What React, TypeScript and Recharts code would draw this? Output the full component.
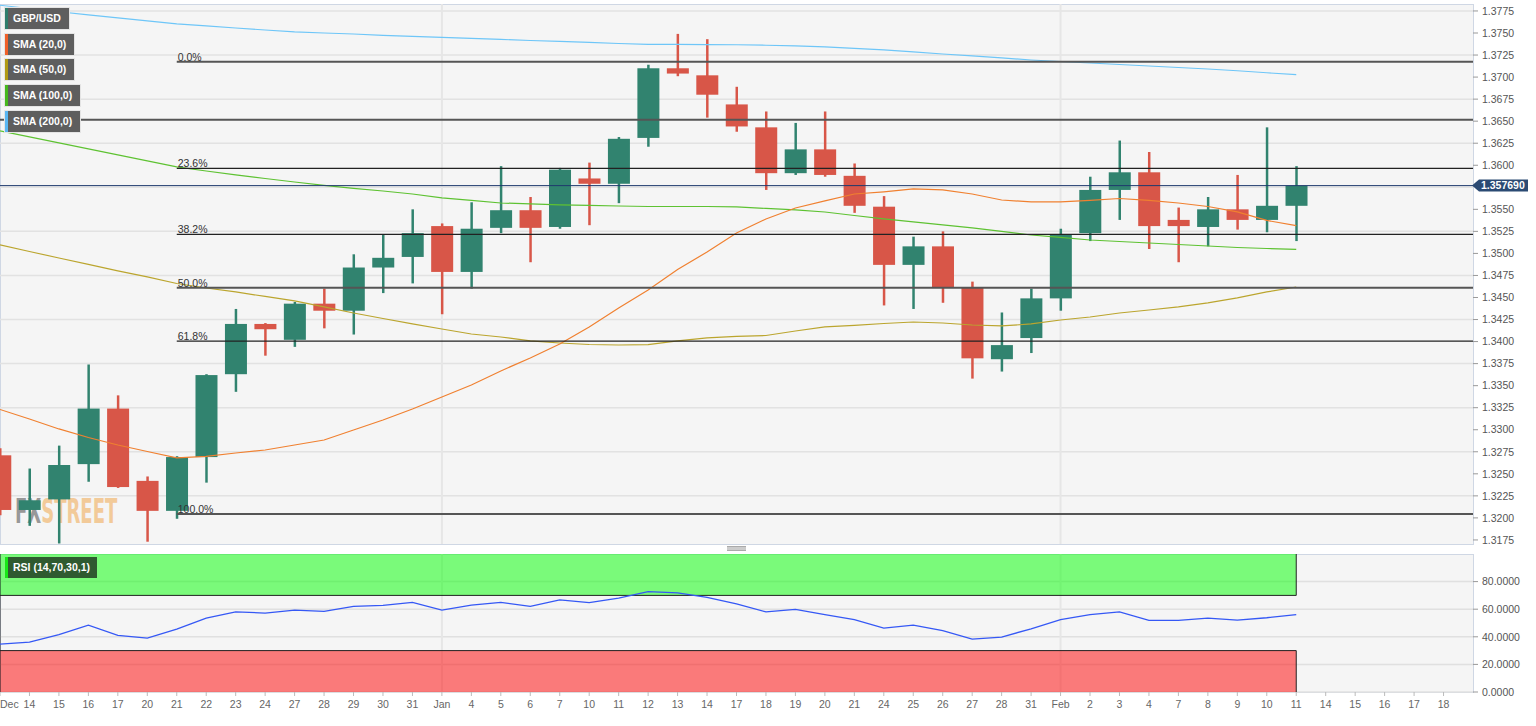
import React from 'react';
import {
    ComposedChart,
    Bar,
    Line,
    XAxis,
    YAxis,
    CartesianGrid,
    ReferenceLine,
    ReferenceArea,
} from 'recharts';

// the picture is laid out from the page's top-left corner
if (typeof document !== 'undefined') document.body.style.margin = '0';

// trading days shown on the time axis (month name on the first day of the month)
const dates = [
    'Dec', '14', '15', '16', '17', '20', '21', '22', '23', '24', '27', '28', '29', '30', '31',
    'Jan', '4', '5', '6', '7', '10', '11', '12', '13', '14', '17', '18', '19', '20', '21', '24', '25', '26', '27', '28', '31',
    'Feb', '2', '3', '4', '7', '8', '9', '10', '11', '14', '15', '16', '17', '18',
];

const opens = [
    1.3271, 1.3209, 1.3221, 1.3261, 1.3324, 1.3242, 1.3208, 1.3269, 1.3363, 1.342,
    1.3402, 1.3443, 1.3435, 1.3484, 1.3496, 1.3531, 1.3479, 1.3529, 1.3549, 1.353,
    1.3585, 1.3579, 1.3631, 1.371, 1.3702, 1.3669, 1.3643, 1.3591, 1.3618, 1.3588,
    1.3553, 1.3487, 1.3508, 1.3461, 1.338, 1.3404, 1.3449, 1.3523, 1.3572, 1.3592,
    1.3538, 1.353, 1.355, 1.3538, 1.3554,
];
const highs = [
    1.3279, 1.3256, 1.3282, 1.3374, 1.3339, 1.3247, 1.327, 1.3363, 1.3437, 1.3421,
    1.3445, 1.346, 1.3499, 1.3521, 1.355, 1.3534, 1.3558, 1.3599, 1.3564, 1.3597,
    1.3603, 1.3632, 1.3714, 1.3749, 1.3743, 1.3689, 1.3661, 1.3648, 1.3661, 1.3602,
    1.3565, 1.3519, 1.3525, 1.3468, 1.3433, 1.346, 1.3528, 1.3587, 1.3628, 1.3615,
    1.3552, 1.3564, 1.3589, 1.3643, 1.3599,
];
const lows = [
    1.3203, 1.3191, 1.3171, 1.3241, 1.3234, 1.3173, 1.3199, 1.324, 1.3343, 1.3384,
    1.3394, 1.3415, 1.3408, 1.3455, 1.3466, 1.3431, 1.346, 1.3523, 1.349, 1.3528,
    1.3532, 1.3557, 1.3621, 1.3701, 1.3654, 1.3638, 1.3572, 1.3589, 1.3587, 1.3546,
    1.3441, 1.3437, 1.3444, 1.3358, 1.3366, 1.3387, 1.3435, 1.3514, 1.3538, 1.3505,
    1.349, 1.3508, 1.3527, 1.3524, 1.3514,
];
const closes = [
    1.3209, 1.322, 1.326, 1.3324, 1.3235, 1.3208, 1.3269, 1.3362, 1.342, 1.3414,
    1.3443, 1.3435, 1.3484, 1.3495, 1.3523, 1.3479, 1.3528, 1.3549, 1.3529, 1.3595,
    1.3579, 1.363, 1.371, 1.3704, 1.368, 1.3644, 1.3591, 1.3618, 1.3589, 1.3554,
    1.3487, 1.3508, 1.3461, 1.3381, 1.3396, 1.3449, 1.3521, 1.3572, 1.3592, 1.3531,
    1.3531, 1.355, 1.3538, 1.3554, 1.35769,
];

const sma20 = [
    1.3323, 1.33122, 1.33009, 1.32912, 1.32827, 1.32753, 1.3268, 1.32697, 1.32736, 1.3277,
    1.32827, 1.32884, 1.32997, 1.33111, 1.33235, 1.33372, 1.33508, 1.33667, 1.33814, 1.33973,
    1.34166, 1.34381, 1.34585, 1.34818, 1.35016, 1.35232, 1.35391, 1.35515, 1.35595, 1.35674,
    1.35699, 1.35731, 1.3572, 1.35674, 1.35606, 1.35584, 1.35584, 1.35601, 1.35623, 1.35601,
    1.35572, 1.35532, 1.35472, 1.35374, 1.35315,
];
const sma50 = [
    1.35096, 1.35022, 1.34948, 1.34875, 1.34801, 1.34733, 1.34659, 1.34608, 1.34563, 1.34512,
    1.34461, 1.34393, 1.34324, 1.34262, 1.342, 1.34143, 1.34086, 1.34052, 1.34007, 1.33984,
    1.33967, 1.33961, 1.33965, 1.34007, 1.34041, 1.34058, 1.34069, 1.3412, 1.34166, 1.34183,
    1.34205, 1.34222, 1.34211, 1.34188, 1.34177, 1.342, 1.34245, 1.34279, 1.34324, 1.34358,
    1.34393, 1.34438, 1.34495, 1.34563, 1.34619,
];
const sma100 = [
    1.36389, 1.36321, 1.36253, 1.36185, 1.36117, 1.36049, 1.35981, 1.35935, 1.3589, 1.3585,
    1.3581, 1.35771, 1.35737, 1.35708, 1.35674, 1.35629, 1.35601, 1.35572, 1.35561, 1.3555,
    1.35544, 1.35538, 1.35532, 1.35532, 1.35532, 1.35527, 1.3551, 1.35493, 1.3547, 1.3543,
    1.35391, 1.35357, 1.35323, 1.35289, 1.35249, 1.35209, 1.35181, 1.35152, 1.35135, 1.35118,
    1.35101, 1.35084, 1.35067, 1.35056, 1.35045,
];
const sma200 = [
    1.37815, 1.37778, 1.37741, 1.37705, 1.37671, 1.37637, 1.37603, 1.3758, 1.37557, 1.37534,
    1.37512, 1.375, 1.37489, 1.37472, 1.37461, 1.3745, 1.37438, 1.37427, 1.37415, 1.37404,
    1.37393, 1.37381, 1.37372, 1.3737, 1.37369, 1.37367, 1.37361, 1.37353, 1.37342, 1.37325,
    1.37308, 1.37285, 1.37262, 1.3724, 1.37217, 1.37194, 1.37177, 1.3716, 1.37143, 1.37126,
    1.37109, 1.37092, 1.37072, 1.37049, 1.37027,
];

const rsi = [
    34.7, 36.1, 41.5, 48.5, 41, 39, 45.6, 53.6, 58, 57.2,
    59.4, 58.4, 62, 62.8, 65, 59.4, 63, 65, 62, 66.7,
    64.7, 68.1, 72.7, 71.8, 68.6, 63.8, 58, 59.9, 56, 52.4,
    46.3, 48.5, 44.4, 38.3, 39.8, 45.8, 52.4, 56, 58, 51.9,
    51.9, 53.6, 52.1, 53.8, 56,
];

const priceTicks = [
    1.3175, 1.32, 1.3225, 1.325, 1.3275, 1.33, 1.3325, 1.335, 1.3375, 1.34, 1.3425, 1.345, 1.3475,
    1.35, 1.3525, 1.355, 1.3575, 1.36, 1.3625, 1.365, 1.3675, 1.37, 1.3725, 1.375, 1.3775,
];
const rsiTicks = [0, 20, 40, 60, 80];
const rsiOverbought = 70;
const rsiOversold = 30;

const fibHigh = 1.37175;
const fibLow = 1.32044;
const fibRatios = [0, 0.236, 0.382, 0.5, 0.618, 1];
const fibLabels = ['0.0%', '23.6%', '38.2%', '50.0%', '61.8%', '100.0%'];
const fibStart = 6; // Dec 21
const extraLevel = 1.36517;
const lastPrice = 1.35769;
const monthStarts = [15, 36];

const legendItems = [
    { name: 'GBP/USD', color: '#2e7d6c' },
    { name: 'SMA (20,0)', color: '#f0602a' },
    { name: 'SMA (50,0)', color: '#b09a16' },
    { name: 'SMA (100,0)', color: '#46b81e' },
    { name: 'SMA (200,0)', color: '#5ab6f2' },
];

const GREEN = '#31836f';
const RED = '#d85648';
const FONT = '"Liberation Sans", Arial, sans-serif';

const candleData = opens.map((o, i) => ({
    i,
    open: o,
    high: highs[i],
    low: lows[i],
    close: closes[i],
    range: [lows[i], highs[i]],
    sma20: sma20[i],
    sma50: sma50[i],
    sma100: sma100[i],
    sma200: sma200[i],
}));

const rsiData = rsi.map((v, i) => ({ i, rsi: v }));
const dayTicks = dates.map((_, i) => i);
const lastIdx = rsi.length - 1;

const Candle = (props: any) => {
    const { x, y, width, height, payload } = props;
    if (!payload || height == null || isNaN(y)) return null;
    const { open, close, high, low } = payload;
    const color = close >= open ? GREEN : RED;
    const k = height / (high - low);
    const top = y + (high - Math.max(open, close)) * k;
    const bottom = y + (high - Math.min(open, close)) * k;
    const cx = x + width / 2;
    return (
        <g>
            <line x1={cx} x2={cx} y1={y} y2={y + height} stroke={color} strokeWidth={2.5} />
            <rect x={x} y={top} width={width} height={Math.max(bottom - top, 1.5)} fill={color} />
        </g>
    );
};

const PriceTag = (props: any) => {
    const { viewBox } = props;
    if (!viewBox) return null;
    const x = viewBox.x + viewBox.width;
    const y = viewBox.y;
    return (
        <g>
            <path
                d={`M${x - 1},${y} L${x + 6},${y - 6} L${x + 55},${y - 6} L${x + 55},${y + 6} L${x + 6},${y + 6} Z`}
                fill='#2b4a73'
            />
            <text x={x + 8} y={y + 3.8} fill='#fff' fontSize={10.5} fontWeight='bold' fontFamily={FONT}>
                {lastPrice.toFixed(6)}
            </text>
        </g>
    );
};

const DateTick = (props: any) => {
    const { x, y, payload, index } = props;
    const first = index === 0 || Number(payload.value) === 0;
    return (
        <text
            x={first ? Math.max(x, 0) : x}
            y={y}
            dy='0.71em'
            textAnchor={first ? 'start' : 'middle'}
            fill='#666'
            fontSize={10.5}
            fontFamily={FONT}
        >
            {dates[Number(payload.value)]}
        </text>
    );
};

const App = () => {
    return (
        <div
            style={{
                position: 'relative',
                width: 1536,
                height: 726,
                overflow: 'hidden',
                background: '#fff',
                fontFamily: FONT,
            }}
        >
            {/* plot backgrounds */}
            <div
                style={{
                    position: 'absolute', left: 0, top: 4, width: 1474, height: 541,
                    background: '#f5f5f5', border: '1px solid #cfd7e4', boxSizing: 'border-box',
                }}
            />
            <div
                style={{
                    position: 'absolute', left: 0, top: 554, width: 1474, height: 139,
                    background: '#f5f5f5', border: '1px solid #cfd7e4', boxSizing: 'border-box',
                }}
            />
            {/* watermark */}
            <div
                style={{
                    position: 'absolute', left: 15, top: 491, fontFamily: '"DejaVu Sans", sans-serif',
                    fontWeight: 'bold', fontSize: 34, lineHeight: '40px', whiteSpace: 'nowrap',
                    transform: 'scaleX(0.53)', transformOrigin: 'left top', opacity: 0.9,
                }}
            >
                <span style={{ color: '#8e8e8e' }}>FX</span>
                <span style={{ color: '#f2c690' }}>STREET</span>
            </div>

            <div style={{ position: 'absolute', left: 0, top: 0 }}>
                <ComposedChart
                    width={1536}
                    height={548}
                    data={candleData}
                    margin={{ top: 4, right: 0, bottom: 4, left: 0 }}
                >
                    <CartesianGrid
                        horizontal
                        vertical={false}
                        horizontalValues={priceTicks}
                        stroke='#e2e2e2'
                        strokeWidth={1.5}
                    />
                    <CartesianGrid
                        horizontal={false}
                        vertical
                        verticalValues={monthStarts}
                        stroke='#e6e6e6'
                        strokeWidth={2}
                    />
                    <XAxis type='number' dataKey='i' domain={[0, 50]} hide allowDataOverflow />
                    <YAxis
                        orientation='right'
                        width={63}
                        domain={[1.31704, 1.37829]}
                        allowDataOverflow
                        ticks={priceTicks.filter((t) => Math.abs(t - lastPrice) > 0.001)}
                        tickFormatter={(v: number) => v.toFixed(4)}
                        tick={{ fontSize: 10.5, fill: '#555', fontFamily: FONT }}
                        tickLine={{ stroke: '#999' }}
                        tickSize={5}
                        tickMargin={4}
                        axisLine={false}
                    />
                    <Bar dataKey='range' barSize={22} shape={Candle} isAnimationActive={false} />
                    <Line dataKey='sma200' stroke='#6ec6f8' strokeWidth={1.2} dot={false} isAnimationActive={false} />
                    <Line dataKey='sma100' stroke='#5ec232' strokeWidth={1.2} dot={false} isAnimationActive={false} />
                    <Line dataKey='sma50' stroke='#bba52e' strokeWidth={1.2} dot={false} isAnimationActive={false} />
                    <Line dataKey='sma20' stroke='#f08030' strokeWidth={1.2} dot={false} isAnimationActive={false} />
                    <ReferenceLine y={extraLevel} stroke='#555' strokeWidth={2} />
                    {fibRatios.map((r, k) => {
                        const v = fibHigh - (fibHigh - fibLow) * r;
                        const thick = r === 0 || r === 0.5 || r === 1;
                        return (
                            <ReferenceLine
                                key={fibLabels[k]}
                                segment={[{ x: fibStart, y: v }, { x: 50, y: v }]}
                                stroke={thick ? '#555' : '#222'}
                                strokeWidth={thick ? 2 : 1.2}
                                label={{
                                    value: fibLabels[k],
                                    position: 'insideBottomLeft',
                                    offset: 1,
                                    fill: '#333',
                                    fontSize: 10.5,
                                    fontFamily: FONT,
                                }}
                            />
                        );
                    })}
                    <ReferenceLine y={lastPrice} stroke='#1f3a6e' strokeWidth={1} label={PriceTag} />
                </ComposedChart>
            </div>

            {/* panel resize handle */}
            <div
                style={{
                    position: 'absolute', left: 727, top: 546, width: 19, height: 3,
                    borderTop: '1px solid #aaa', borderBottom: '1px solid #aaa', background: '#ccc',
                }}
            />

            <div style={{ position: 'absolute', left: 0, top: 548 }}>
                <ComposedChart
                    width={1536}
                    height={178}
                    data={rsiData}
                    margin={{ top: 6, right: 0, bottom: 4, left: 0 }}
                >
                    <CartesianGrid
                        horizontal
                        vertical={false}
                        horizontalValues={rsiTicks}
                        stroke='#e0e0e0'
                        strokeWidth={1.5}
                    />
                    <CartesianGrid
                        horizontal={false}
                        vertical
                        verticalValues={monthStarts}
                        stroke='#e6e6e6'
                        strokeWidth={2}
                    />
                    <XAxis
                        type='number'
                        dataKey='i'
                        domain={[0, 50]}
                        ticks={dayTicks}
                        interval={0}
                        height={30}
                        tick={DateTick}
                        tickLine={{ stroke: '#bbb' }}
                        tickSize={4}
                        tickMargin={5}
                        axisLine={false}
                        allowDataOverflow
                    />
                    <YAxis
                        orientation='right'
                        width={63}
                        domain={[0, 100]}
                        ticks={rsiTicks}
                        tickFormatter={(v: number) => v.toFixed(4)}
                        tick={{ fontSize: 10.5, fill: '#555', fontFamily: FONT }}
                        tickLine={{ stroke: '#999' }}
                        tickSize={5}
                        tickMargin={4}
                        axisLine={false}
                    />
                    <ReferenceArea x1={0} x2={lastIdx} y1={rsiOverbought} y2={100} fill='#00ff00' fillOpacity={0.5} />
                    <ReferenceArea x1={0} x2={lastIdx} y1={0} y2={rsiOversold} fill='#ff0000' fillOpacity={0.5} />
                    <ReferenceLine segment={[{ x: 0, y: rsiOverbought }, { x: lastIdx, y: rsiOverbought }]} stroke='#222' />
                    <ReferenceLine segment={[{ x: lastIdx, y: rsiOverbought }, { x: lastIdx, y: 100 }]} stroke='#222' />
                    <ReferenceLine segment={[{ x: 0, y: rsiOversold }, { x: lastIdx, y: rsiOversold }]} stroke='#222' />
                    <ReferenceLine segment={[{ x: lastIdx, y: 0 }, { x: lastIdx, y: rsiOversold }]} stroke='#222' />
                    <ReferenceLine x={0} stroke='#222' />
                    <Line dataKey='rsi' stroke='#3558f5' strokeWidth={1.3} dot={false} isAnimationActive={false} />
                </ComposedChart>
            </div>

            {/* legend labels */}
            {legendItems.map((it, k) => (
                <div
                    key={it.name}
                    style={{
                        position: 'absolute', left: 5, top: 8 + k * 25.7, height: 21, lineHeight: '21px',
                        background: '#5e5e5e', color: '#fff', fontWeight: 'bold', fontSize: 10.5,
                        borderLeft: `3px solid ${it.color}`, paddingLeft: 5, paddingRight: 8,
                        boxShadow: '0 0 0 1px #e4e4e4', whiteSpace: 'nowrap',
                    }}
                >
                    {it.name}
                </div>
            ))}
            <div
                style={{
                    position: 'absolute', left: 5, top: 557, height: 21, lineHeight: '21px',
                    background: '#2f5a30', color: '#fff', fontWeight: 'bold', fontSize: 10.5,
                    borderLeft: '3px solid #19e619', paddingLeft: 5, paddingRight: 7, whiteSpace: 'nowrap',
                }}
            >
                RSI (14,70,30,1)
            </div>
        </div>
    );
};

export default App;
